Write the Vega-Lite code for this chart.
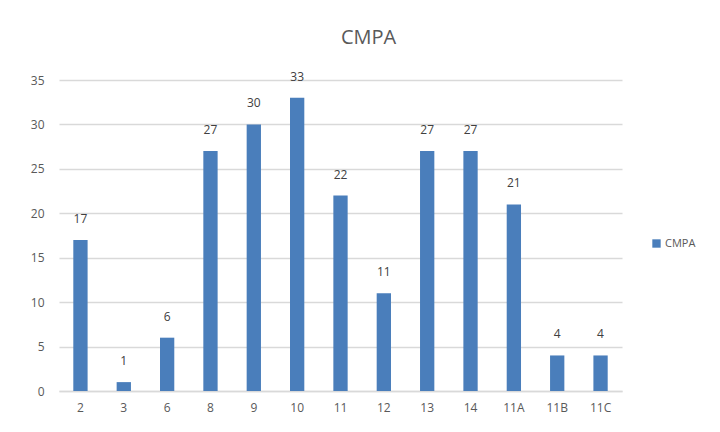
{
  "$schema": "https://vega.github.io/schema/vega-lite/v6.json",
  "autosize": "none",
  "width": 563,
  "height": 311,
  "padding": {"left": 59, "top": 80, "right": 98, "bottom": 41},
  "background": "white",
  "title": {
    "text": "CMPA",
    "fontSize": 20,
    "font": "Open Sans",
    "fontWeight": "normal",
    "color": "#595959",
    "anchor": "middle",
    "dx": 28,
    "offset": 23
  },
  "data": {
    "values": [
      {"grade": "2", "count": 17, "series": "CMPA"},
      {"grade": "3", "count": 1, "series": "CMPA"},
      {"grade": "6", "count": 6, "series": "CMPA"},
      {"grade": "8", "count": 27, "series": "CMPA"},
      {"grade": "9", "count": 30, "series": "CMPA"},
      {"grade": "10", "count": 33, "series": "CMPA"},
      {"grade": "11", "count": 22, "series": "CMPA"},
      {"grade": "12", "count": 11, "series": "CMPA"},
      {"grade": "13", "count": 27, "series": "CMPA"},
      {"grade": "14", "count": 27, "series": "CMPA"},
      {"grade": "11A", "count": 21, "series": "CMPA"},
      {"grade": "11B", "count": 4, "series": "CMPA"},
      {"grade": "11C", "count": 4, "series": "CMPA"}
    ]
  },
  "encoding": {
    "x": {
      "field": "grade",
      "type": "nominal",
      "sort": null,
      "scale": {"paddingInner": 0.67, "paddingOuter": 0.33},
      "axis": {
        "title": null,
        "labelAngle": 0,
        "labelFont": "Open Sans",
        "labelFontSize": 12,
        "labelColor": "#595959",
        "labelPadding": 11,
        "ticks": false,
        "domainColor": "#d9d9d9",
        "domainWidth": 1.5
      }
    },
    "y": {
      "field": "count",
      "type": "quantitative",
      "scale": {"domain": [0, 35]},
      "axis": {
        "title": null,
        "values": [0, 5, 10, 15, 20, 25, 30, 35],
        "labelFont": "Open Sans",
        "labelFontSize": 12,
        "labelColor": "#595959",
        "labelPadding": 15,
        "ticks": false,
        "domain": false,
        "gridColor": "#d9d9d9",
        "gridWidth": 1.5
      }
    }
  },
  "layer": [
    {
      "mark": {"type": "bar", "color": "#4a7ebb"},
      "encoding": {
        "color": {
          "field": "series",
          "type": "nominal",
          "scale": {"range": ["#4a7ebb"]},
          "legend": {
            "title": null,
            "orient": "none",
            "legendX": 592,
            "legendY": 158,
            "symbolType": "square",
            "symbolSize": 70,
            "symbolStrokeWidth": 0,
            "labelFont": "Open Sans",
            "labelFontSize": 11,
            "labelColor": "#595959",
            "labelOffset": 3
          }
        }
      }
    },
    {
      "mark": {
        "type": "text",
        "dy": -21,
        "font": "Open Sans",
        "fontSize": 12,
        "color": "#404040"
      },
      "encoding": {"text": {"field": "count", "type": "quantitative"}}
    }
  ],
  "config": {"view": {"stroke": null}}
}
